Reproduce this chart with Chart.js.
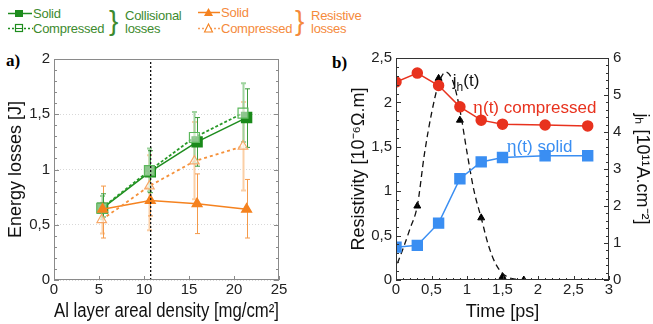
<!DOCTYPE html>
<html><head><meta charset="utf-8">
<script src="https://cdn.jsdelivr.net/npm/chart.js@4.4.1/dist/chart.umd.min.js"></script>
<style>
body{margin:0;width:653px;height:324px;position:relative;background:#fff;overflow:hidden;font-family:"Liberation Sans",Arial,sans-serif}
canvas{position:absolute}
#ca{left:0;top:40px}
#cb{left:330px;top:40px}
.t{position:absolute;font-size:13px;line-height:13px;white-space:nowrap;letter-spacing:-0.25px}
.g{color:#3d8a2e}.o{color:#f58a3c}
.br{position:absolute;font-size:28px;line-height:27px}
.pl{position:absolute;font-family:"Liberation Serif","DejaVu Serif",serif;font-weight:bold;font-size:17px;line-height:17px}
</style></head><body>
<svg width="330" height="40" style="position:absolute;left:0;top:0">
  <line x1="8" y1="13.5" x2="32" y2="13.5" stroke="#1e8c1e" stroke-width="1.5"/>
  <rect x="15" y="10" width="8" height="7" fill="#1e8c1e"/>
  <line x1="8" y1="28.5" x2="33" y2="28.5" stroke="#1e8c1e" stroke-width="1.3" stroke-dasharray="2,2"/>
  <rect x="15.5" y="24.5" width="7" height="7" fill="#fff" stroke="#1e8c1e" stroke-width="1.2"/>
  <line x1="16" y1="28.5" x2="22" y2="28.5" stroke="#1e8c1e" stroke-width="1"/>
  <line x1="198" y1="12.5" x2="220" y2="12.5" stroke="#f5821f" stroke-width="1.5"/>
  <polygon points="204,16 213,16 208.5,8" fill="#f5821f"/>
  <line x1="198" y1="28.5" x2="220" y2="28.5" stroke="#f5a060" stroke-width="1.3" stroke-dasharray="2,2"/>
  <polygon points="204.5,32 212.5,32 208.5,24" fill="#fff" stroke="#f5821f" stroke-width="1.1"/>
</svg>
<div class="t g" style="left:33px;top:7px">Solid</div>
<div class="t g" style="left:33px;top:22px">Compressed</div>
<div class="br g" style="left:109px;top:7px">}</div>
<div class="t g" style="left:125px;top:9px">Collisional</div>
<div class="t g" style="left:125px;top:22px">losses</div>
<div class="t o" style="left:221px;top:6px">Solid</div>
<div class="t o" style="left:221px;top:22px">Compressed</div>
<div class="br o" style="left:295px;top:7px">}</div>
<div class="t o" style="left:311px;top:9px">Resistive</div>
<div class="t o" style="left:311px;top:22px">losses</div>
<div class="pl" style="left:6px;top:52px">a)</div>
<div class="pl" style="left:332px;top:54px">b)</div>
<canvas id="ca" width="330" height="284"></canvas>
<canvas id="cb" width="323" height="284"></canvas>
<script>
// ---------- Panel a data ----------
const densitySolid = [5.4, 10.7, 15.9, 21.4];
const densityComp  = [5.3, 10.6, 15.6, 21.0];
const collSolid    = [0.65, 0.98, 1.25, 1.47];
const collSolidLo  = [0.57, 0.79, 1.03, 1.20];
const collSolidHi  = [0.78, 1.17, 1.47, 1.73];
const collComp     = [0.65, 0.99, 1.29, 1.51];
const collCompLo   = [0.55, 0.80, 1.06, 1.25];
const collCompHi   = [0.76, 1.19, 1.52, 1.78];
const resSolid     = [0.64, 0.72, 0.69, 0.64];
const resSolidLo   = [0.38, 0.58, 0.42, 0.38];
const resSolidHi   = [0.85, 0.87, 0.96, 0.91];
const resComp      = [0.545, 0.85, 1.075, 1.21];
const resCompLo    = [0.42, 0.45, 0.73, 0.81];
const resCompHi    = [0.70, 1.13, 1.43, 1.61];
const markerDensity = [10.74];
const xTicksA = [0, 5, 10, 15, 20, 25];
const yTicksA = [0, 0.5, 1, 1.5, 2];

// ---------- Panel b data ----------
const timePs        = [0, 0.3, 0.6, 0.9, 1.2, 1.5, 2.1, 2.7];
const etaCompressed = [2.23, 2.33, 2.19, 1.95, 1.80, 1.755, 1.745, 1.735];
const etaSolid      = [0.37, 0.39, 0.64, 1.14, 1.33, 1.38, 1.40, 1.40];
const jhTime  = [0.3, 0.6, 0.9, 1.2, 1.5, 1.8];
const jhValue = [2.0, 5.45, 4.32, 1.68, 0.09, 0.0];
const jhCurveT = [0.02, 0.1, 0.2, 0.3, 0.4, 0.5, 0.6, 0.7, 0.8, 0.9, 1.0, 1.1, 1.2, 1.3, 1.4, 1.5, 1.6, 1.7, 1.8];
const jhCurveJ = [0.45, 0.85, 1.4, 2.0, 3.4, 4.5, 5.3, 5.62, 5.38, 4.6, 3.45, 2.4, 1.68, 0.95, 0.45, 0.18, 0.06, 0.02, 0.0];

const FAM = '"Liberation Sans", Arial, sans-serif';
const fmt = v => String(+v.toFixed(2)).replace('.', ',');
const pts = (xs, ys) => xs.map((x, i) => ({x, y: ys[i]}));

const errorBars = {
  id: 'errorBars',
  beforeDatasetsDraw(chart) {
    const ctx = chart.ctx;
    chart.data.datasets.forEach((ds, i) => {
      if (!ds.errLo) return;
      const xs = chart.scales.x, ys = chart.scales.y;
      ctx.save();
      ctx.strokeStyle = ds.errColor; ctx.lineWidth = ds.errWidth || 1;
      ds.data.forEach((p, j) => {
        const x = Math.round(xs.getPixelForValue(p.x)) + 0.5;
        const y1 = ys.getPixelForValue(ds.errLo[j]), y2 = ys.getPixelForValue(ds.errHi[j]);
        ctx.beginPath();
        ctx.moveTo(x, y1); ctx.lineTo(x, y2);
        ctx.moveTo(x - 2.5, y1); ctx.lineTo(x + 2.5, y1);
        ctx.moveTo(x - 2.5, y2); ctx.lineTo(x + 2.5, y2);
        ctx.stroke();
      });
      ctx.restore();
    });
  }
};

const frameTicks = {
  id: 'frameTicks',
  afterDraw(chart, args, opts) {
    const {ctx, chartArea: a} = chart;
    ctx.save();
    ctx.strokeStyle = opts.color; ctx.lineWidth = 1;
    ctx.strokeRect(Math.round(a.left) + 0.5, Math.round(a.top) + 0.5, Math.round(a.right - a.left) - 1, Math.round(a.bottom - a.top) - 1);
    for (const t of opts.ticks) {
      const s = chart.scales[t.scale];
      const n = Math.round((s.max - s.min) / t.minor);
      for (let i = 0; i <= n; i++) {
        const v = s.min + i * t.minor;
        const r = v / t.major;
        const isMaj = Math.abs(r - Math.round(r)) < 1e-6;
        const L = isMaj ? t.majLen : t.minLen;
        if (!L) continue;
        const p = Math.round(s.getPixelForValue(v)) + 0.5;
        ctx.beginPath();
        if (t.side === 'left') { ctx.moveTo(a.left, p); ctx.lineTo(a.left + L, p); }
        else if (t.side === 'right') { ctx.moveTo(a.right, p); ctx.lineTo(a.right - L, p); }
        else { ctx.moveTo(p, a.bottom); ctx.lineTo(p, a.bottom - L); }
        ctx.stroke();
      }
    }
    ctx.restore();
  }
};

const annotations = {
  id: 'annotations',
  afterDatasetsDraw(chart, args, opts) {
    const ctx = chart.ctx;
    ctx.save();
    ctx.textBaseline = 'alphabetic';
    for (const it of opts.items) {
      let x = chart.scales.x.getPixelForValue(it.x);
      const y = chart.scales[it.axis].getPixelForValue(it.y);
      ctx.fillStyle = it.color;
      for (const part of it.parts) {
        ctx.font = part.font;
        ctx.fillText(part.text, x, y + (part.dy || 0));
        x += ctx.measureText(part.text).width;
      }
    }
    ctx.restore();
  }
};

const tickFont = {family: FAM, size: 15};
const titleFont = {family: FAM, size: 18};

new Chart(document.getElementById('ca'), {
  type: 'scatter',
  data: {
    datasets: [
      {data: pts(markerDensity.concat(markerDensity), [0, 2]), showLine: true, borderColor: '#111', borderWidth: 1.3,
       borderDash: [2, 2], pointRadius: 0},
      {data: pts(densityComp, resComp), showLine: true, borderColor: '#f5913a', borderWidth: 1.8, borderDash: [3, 3],
       pointStyle: 'triangle', pointRadius: 5.5, pointBackgroundColor: 'rgba(255,255,255,0.6)', pointBorderColor: '#f7a868', pointBorderWidth: 1.2,
       errLo: resCompLo, errHi: resCompHi, errColor: '#fbcfa6', errWidth: 2},
      {data: pts(densitySolid, resSolid), showLine: true, borderColor: '#f5821f', borderWidth: 1.5,
       pointStyle: 'triangle', pointRadius: 5.5, pointBackgroundColor: '#f5821f', pointBorderColor: '#f5821f',
       errLo: resSolidLo, errHi: resSolidHi, errColor: '#f59a4a', errWidth: 1},
      {data: pts(densityComp, collComp), showLine: true, borderColor: '#2a9a2a', borderWidth: 1.8, borderDash: [3, 2],
       pointStyle: 'rect', pointRadius: 7, pointBackgroundColor: 'rgba(255,255,255,0.5)', pointBorderColor: '#5cb85c', pointBorderWidth: 1.2,
       errLo: collCompLo, errHi: collCompHi, errColor: '#9fd49f', errWidth: 2},
      {data: pts(densitySolid, collSolid), showLine: true, borderColor: '#1e8c1e', borderWidth: 1.5,
       pointStyle: 'rect', pointRadius: 7, pointBackgroundColor: '#1a8a1a', pointBorderColor: '#1a8a1a',
       errLo: collSolidLo, errHi: collSolidHi, errColor: '#3a9a3a', errWidth: 1}
    ]
  },
  options: {
    responsive: false, animation: false,
    layout: {padding: {top: 19, right: 51, left: 0, bottom: 0}},
    plugins: {
      legend: {display: false}, tooltip: {enabled: false},
      frameTicks: {color: '#8a8a8a', ticks: [
        {scale: 'y', side: 'left', minor: 0.1, major: 0.5, minLen: 3, majLen: 5},
        {scale: 'y', side: 'right', minor: 0.1, major: 0.5, minLen: 3, majLen: 5},
        {scale: 'x', side: 'bottom', minor: 5, major: 5, minLen: 4, majLen: 4}
      ]}
    },
    scales: {
      x: {type: 'linear', min: 0, max: 25,
          afterBuildTicks: s => { s.ticks = xTicksA.map(v => ({value: v})); },
          ticks: {font: tickFont, color: '#222', padding: 1, maxRotation: 0, callback: fmt},
          grid: {display: false, drawTicks: false}, border: {display: false},
          title: {display: true, text: 'Al layer areal density [mg/cm²]', font: {family: FAM, size: 19.5}, color: '#111', padding: {top: 0, bottom: 1}},
          afterFit: s => { s.height = 44; }},
      y: {min: 0, max: 2,
          afterBuildTicks: s => { s.ticks = yTicksA.map(v => ({value: v})); },
          ticks: {font: tickFont, color: '#222', padding: 4, callback: fmt},
          grid: {color: '#d8d8d8', drawTicks: false, lineWidth: 1}, border: {display: false, dash: [1, 2]},
          title: {display: true, text: 'Energy losses [J]', font: titleFont, color: '#111', padding: {top: 5, bottom: 0}},
          afterFit: s => { s.width = 54; }}
    }
  },
  plugins: [errorBars, frameTicks]
});

const SERIF = '"Liberation Serif", "DejaVu Serif", serif';
new Chart(document.getElementById('cb'), {
  type: 'scatter',
  data: {
    datasets: [
      {data: pts(timePs, etaSolid), showLine: true, borderColor: '#3a8ef2', borderWidth: 1.5,
       pointStyle: 'rect', pointRadius: 7, pointBackgroundColor: '#3a8ef2', pointBorderColor: '#3a8ef2'},
      {data: pts(timePs, etaCompressed), showLine: true, borderColor: '#e8321e', borderWidth: 1.5,
       pointStyle: 'circle', pointRadius: 5, pointBackgroundColor: '#e8321e', pointBorderColor: '#e8321e'},
      {data: pts(jhCurveT, jhCurveJ), yAxisID: 'y1', showLine: true, borderColor: '#111', borderWidth: 1.3,
       borderDash: [6, 4], pointRadius: 0, tension: 0.4, cubicInterpolationMode: 'monotone'},
      {data: pts(jhTime, jhValue), yAxisID: 'y1', showLine: false,
       pointStyle: 'triangle', pointRadius: 4, pointBackgroundColor: '#000', pointBorderColor: '#000'}
    ]
  },
  options: {
    responsive: false, animation: false,
    layout: {padding: {top: 18, right: 0, left: 0, bottom: 0}},
    plugins: {
      legend: {display: false}, tooltip: {enabled: false},
      frameTicks: {color: '#333', ticks: [
        {scale: 'y', side: 'left', minor: 0.1, major: 0.5, minLen: 3, majLen: 5},
        {scale: 'y1', side: 'right', minor: 0.2, major: 1, minLen: 3, majLen: 5},
        {scale: 'x', side: 'bottom', minor: 0.1, major: 0.5, minLen: 2, majLen: 4}
      ]},
      annotations: {items: [
        {x: 0.80, y: 2.18, axis: 'y', color: '#111', parts: [
          {text: 'j', font: '17px ' + FAM}, {text: 'h', font: '12px ' + FAM, dy: 5}, {text: '(t)', font: '17px ' + FAM}]},
        {x: 1.085, y: 1.88, axis: 'y', color: '#e8321e', parts: [
          {text: 'η', font: '19px ' + SERIF}, {text: '(t) compressed', font: '17px ' + FAM}]},
        {x: 1.56, y: 1.44, axis: 'y', color: '#3a8ef2', parts: [
          {text: 'η', font: '19px ' + SERIF}, {text: '(t) solid', font: '17px ' + FAM}]}
      ]}
    },
    scales: {
      x: {type: 'linear', min: 0, max: 3,
          ticks: {stepSize: 0.5, font: tickFont, color: '#222', padding: 1, maxRotation: 0, callback: fmt},
          grid: {display: false, drawTicks: false}, border: {display: false},
          title: {display: true, text: 'Time [ps]', font: titleFont, color: '#111', padding: {top: 0, bottom: 1}},
          afterFit: s => { s.height = 44; }},
      y: {position: 'left', min: 0, max: 2.5,
          ticks: {stepSize: 0.5, font: tickFont, color: '#222', padding: 4, callback: fmt},
          grid: {display: false, drawTicks: false}, border: {display: false},
          title: {display: true, text: 'Resistivity [10⁻⁶Ω.m]', font: titleFont, color: '#111', padding: {top: 18, bottom: 0}},
          afterFit: s => { s.width = 66; }},
      y1: {position: 'right', min: 0, max: 6,
          ticks: {stepSize: 1, font: tickFont, color: '#222', padding: 4, callback: fmt},
          grid: {display: false, drawTicks: false}, border: {display: false},
          title: {display: true, text: 'jₕ [10¹¹A.cm⁻²]', font: titleFont, color: '#111', padding: {top: 0, bottom: 0}},
          afterFit: s => { s.width = 44; }}
    }
  },
  plugins: [frameTicks, annotations]
});
</script>
</body></html>
